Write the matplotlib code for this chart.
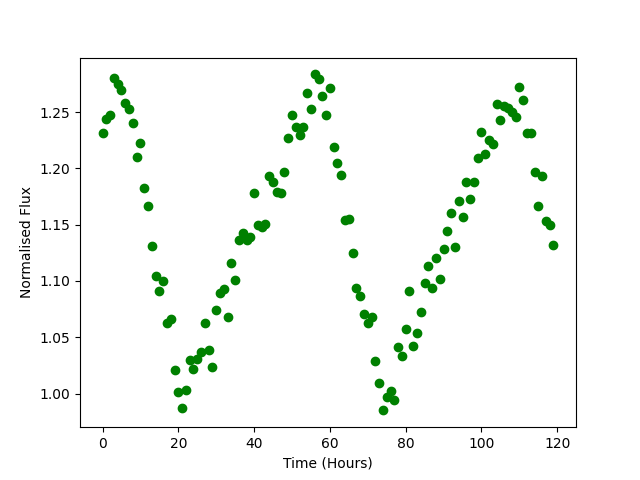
import matplotlib
matplotlib.use("Agg")
import matplotlib.pyplot as plt
import numpy as np

# time in hours, one reading per hour
hours = np.arange(120)

flux = [
    1.231, 1.244, 1.247, 1.280, 1.275, 1.270, 1.258, 1.253, 1.240, 1.210,
    1.223, 1.183, 1.167, 1.131, 1.104, 1.091, 1.100, 1.063, 1.066, 1.021,
    1.001, 0.987, 1.003, 1.030, 1.022, 1.031, 1.037, 1.063, 1.039, 1.024,
    1.074, 1.089, 1.093, 1.068, 1.116, 1.101, 1.136, 1.143, 1.136, 1.139,
    1.178, 1.150, 1.148, 1.151, 1.193, 1.188, 1.179, 1.178, 1.197, 1.227,
    1.247, 1.237, 1.230, 1.237, 1.267, 1.253, 1.2835, 1.279, 1.264, 1.247,
    1.271, 1.219, 1.205, 1.194, 1.154, 1.155, 1.125, 1.094, 1.087, 1.071,
    1.063, 1.068, 1.029, 1.009, 0.985, 0.997, 1.002, 0.994, 1.041, 1.033,
    1.057, 1.091, 1.042, 1.054, 1.072, 1.098, 1.113, 1.094, 1.120, 1.102,
    1.128, 1.144, 1.160, 1.130, 1.171, 1.157, 1.188, 1.173, 1.188, 1.209,
    1.232, 1.213, 1.225, 1.222, 1.257, 1.243, 1.255, 1.254, 1.250, 1.246,
    1.272, 1.261, 1.231, 1.231, 1.197, 1.167, 1.193, 1.153, 1.150, 1.132,
]

fig = plt.figure(figsize=(6.4, 4.8), dpi=100)
plt.plot(hours, flux, 'o', color='green')
plt.xlabel('Time (Hours)')
plt.ylabel('Normalised Flux')
plt.savefig('out.png')
